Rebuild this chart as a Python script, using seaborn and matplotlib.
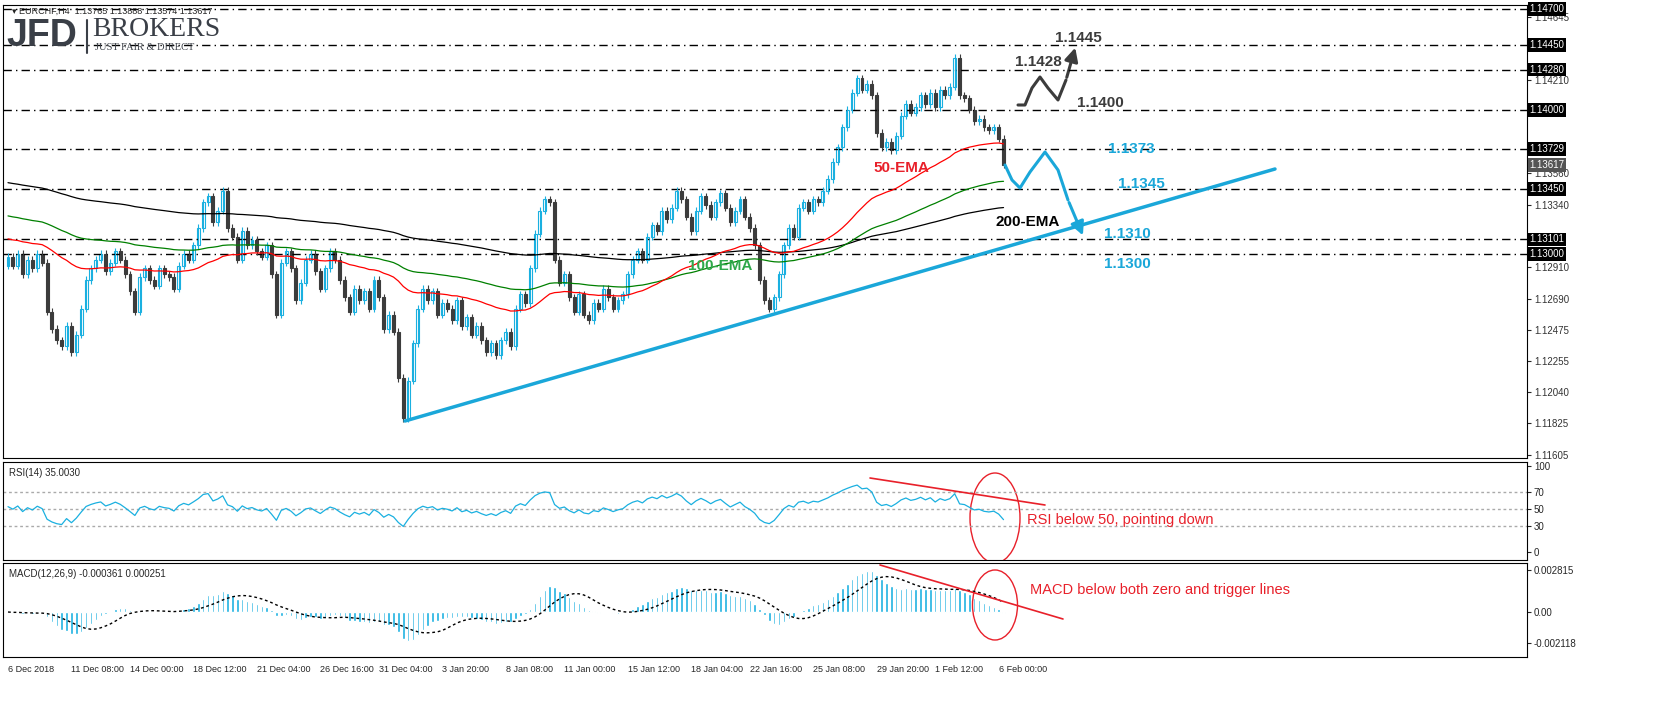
import numpy as np
import pandas as pd
import matplotlib
matplotlib.use("Agg")
import matplotlib.pyplot as plt
import matplotlib.transforms as mtrans
from matplotlib.patches import Ellipse, FancyArrowPatch
import seaborn as sns

# EURCHF H4 closes, 6 Dec 2018 - 6 Feb 2019
closes = [
    1.1298, 1.1292, 1.1300, 1.1286, 1.1296, 1.1290, 1.1300, 1.1294, 1.1260, 1.1248,
    1.1240, 1.1236, 1.1250, 1.1232, 1.1244, 1.1262, 1.1282, 1.1290, 1.1296, 1.1300,
    1.1288, 1.1294, 1.1302, 1.1296, 1.1286, 1.1274, 1.1260, 1.1284, 1.1290, 1.1282,
    1.1278, 1.1290, 1.1286, 1.1284, 1.1276, 1.1292, 1.1300, 1.1296, 1.1306, 1.1318,
    1.1336, 1.1340, 1.1322, 1.1330, 1.1344, 1.1318, 1.1312, 1.1296, 1.1316, 1.1306,
    1.1310, 1.1302, 1.1298, 1.1306, 1.1286, 1.1258, 1.1294, 1.1302, 1.1290, 1.1268,
    1.1280, 1.1296, 1.1300, 1.1288, 1.1276, 1.1290, 1.1302, 1.1296, 1.1282, 1.1270,
    1.1260, 1.1276, 1.1268, 1.1274, 1.1262, 1.1282, 1.1270, 1.1248, 1.1258, 1.1246,
    1.1214, 1.1186, 1.1212, 1.1238, 1.1262, 1.1276, 1.1268, 1.1274, 1.1258, 1.1266,
    1.1262, 1.1254, 1.1268, 1.1250, 1.1256, 1.1244, 1.1250, 1.1240, 1.1232, 1.1238,
    1.1230, 1.1240, 1.1246, 1.1236, 1.1262, 1.1272, 1.1266, 1.1290, 1.1314, 1.1330,
    1.1338, 1.1336, 1.1296, 1.1280, 1.1286, 1.1270, 1.1260, 1.1272, 1.1258, 1.1254,
    1.1266, 1.1262, 1.1276, 1.1270, 1.1262, 1.1268, 1.1272, 1.1286, 1.1296, 1.1302,
    1.1296, 1.1312, 1.1320, 1.1316, 1.1330, 1.1324, 1.1332, 1.1344, 1.1338, 1.1326,
    1.1316, 1.1330, 1.1340, 1.1334, 1.1326, 1.1336, 1.1342, 1.1332, 1.1322, 1.1330,
    1.1338, 1.1326, 1.1318, 1.1306, 1.1282, 1.1268, 1.1262, 1.1270, 1.1286, 1.1306,
    1.1318, 1.1312, 1.1332, 1.1336, 1.1330, 1.1338, 1.1336, 1.1344, 1.1352, 1.1364,
    1.1374, 1.1388, 1.1400, 1.1412, 1.1422, 1.1414, 1.1418, 1.1410, 1.1384, 1.1374,
    1.1378, 1.1372, 1.1382, 1.1396, 1.1404, 1.1398, 1.1402, 1.1410, 1.1404, 1.1412,
    1.1402, 1.1414, 1.1410, 1.1416, 1.1436, 1.1410, 1.1408, 1.1400, 1.1392, 1.1394,
    1.1388, 1.1386, 1.1388, 1.1380, 1.1362,
]
first_open = 1.1292
ema_seeds = {50: 1.1311, 100: 1.1327, 200: 1.1350}
rsi_seed = (0.0004, 0.0004)  # avg gain / avg loss before first candle
levels = [1.1470, 1.1445, 1.1428, 1.1400, 1.13729, 1.1345, 1.13101, 1.1300]
boxed_labels = ["1.14700", "1.14450", "1.14280", "1.14000", "1.13729", "1.13450", "1.13101", "1.13000"]
plain_ticks = [1.14645, 1.14210, 1.13560, 1.13340, 1.12910, 1.12690, 1.12475, 1.12255, 1.12040, 1.11825, 1.11605]
date_labels = ["6 Dec 2018", "11 Dec 08:00", "14 Dec 00:00", "18 Dec 12:00", "21 Dec 04:00",
               "26 Dec 16:00", "31 Dec 04:00", "3 Jan 20:00", "8 Jan 08:00", "11 Jan 00:00",
               "15 Jan 12:00", "18 Jan 04:00", "22 Jan 16:00", "25 Jan 08:00", "29 Jan 20:00",
               "1 Feb 12:00", "6 Feb 00:00"]

sns.set_style("white")
plt.rcParams["font.family"] = ["Liberation Sans", "DejaVu Sans"]

close = pd.Series(closes)
opn = pd.Series([first_open] + closes[:-1])
n = len(close)
idx = np.arange(n)
wick = 0.00025
high = np.maximum(opn, close) + wick
low = np.minimum(opn, close) - wick

def ema(span, seed):
    s = pd.concat([pd.Series([seed]), close], ignore_index=True)
    return s.ewm(span=span, adjust=False).mean().iloc[1:].reset_index(drop=True)

# RSI(14), Wilder smoothing from seeds
d = (close - opn)
gains = pd.concat([pd.Series([rsi_seed[0]]), d.clip(lower=0)], ignore_index=True)
losses = pd.concat([pd.Series([rsi_seed[1]]), (-d).clip(lower=0)], ignore_index=True)
up = gains.ewm(alpha=1 / 14, adjust=False).mean().iloc[1:].reset_index(drop=True)
dn = losses.ewm(alpha=1 / 14, adjust=False).mean().iloc[1:].reset_index(drop=True)
rsi = 100 - 100 / (1 + up / dn)
# MACD(12,26,9)
macd = close.ewm(span=12, adjust=False).mean() - close.ewm(span=26, adjust=False).mean()
signal = macd.rolling(9, min_periods=1).mean()

fig = plt.figure(figsize=(16.55, 7.02), dpi=100)
L, W = 3 / 1655, 1524 / 1655
ax = fig.add_axes([L, 1 - 458 / 702, W, 453 / 702])
ax2 = fig.add_axes([L, 1 - 560 / 702, W, 98 / 702])
ax3 = fig.add_axes([L, 1 - 657 / 702, W, 94 / 702])

XSTEP = 4.88
def px(xp):
    return (xp - 8) / XSTEP
def py(yp):
    return 1.1300 + (254 - yp) / 14414

xlim = (px(3), px(1527))
for a in (ax, ax2, ax3):
    a.set_xlim(*xlim)
    for s in a.spines.values():
        s.set_color("black")
        s.set_linewidth(0.8)
    a.yaxis.tick_right()
    a.tick_params(axis="y", labelsize=7, length=3, pad=2)
    a.set_xticks([])

ax.set_ylim(py(458), py(5))
for lv in levels:
    ax.axhline(lv, color="black", lw=1, ls=(0, (6, 3, 1, 3)))

# candles
bull = close >= opn
up_c, dn_c = "#1ab0e0", "#3c3c3c"
colors = np.where(bull, up_c, dn_c)
ax.vlines(idx, low, high, colors=colors, lw=0.8)
ax.bar(idx[bull], (close - opn)[bull], bottom=opn[bull], width=0.6, color="white",
       edgecolor=up_c, lw=0.8)
ax.bar(idx[~bull], (close - opn)[~bull], bottom=opn[~bull], width=0.6, color=dn_c,
       edgecolor=dn_c, lw=0.8)

for span, col in [(200, "black"), (100, "green"), (50, "red")]:
    sns.lineplot(x=idx, y=ema(span, ema_seeds[span]), ax=ax, color=col, lw=0.9)

# trendline
ax.plot([px(405), px(1275)], [py(421), py(169)], color="#1aa7d9", lw=2.5)

# scenario arrows
bx = [1018, 1025, 1032, 1040, 1048, 1058, 1066]
byy = [105, 105, 88, 77, 88, 100, 80]
ax.plot([px(v) for v in bx], [py(v) for v in byy], color="#3c3c3c", lw=2.2)
ax.add_patch(FancyArrowPatch((px(1066), py(80)), (px(1076), py(45)), arrowstyle="-|>",
                             mutation_scale=20, color="#3c3c3c", lw=2.2))
cx = [1005, 1012, 1020, 1030, 1045, 1058, 1068]
cy = [165, 180, 188, 172, 152, 170, 200]
ax.plot([px(v) for v in cx], [py(v) for v in cy], color="#1aa7d9", lw=2.2)
ax.add_patch(FancyArrowPatch((px(1068), py(200)), (px(1084), py(238)), arrowstyle="-|>",
                             mutation_scale=20, color="#1aa7d9", lw=2.2))

def lab(x, y, s, c, **kw):
    ax.text(px(x), py(y), s, color=c, fontsize=11, fontweight="bold", va="center", **kw)
lab(1055, 38, "1.1445", "#3c3c3c")
lab(1015, 62, "1.1428", "#3c3c3c")
lab(1077, 103, "1.1400", "#3c3c3c")
lab(1108, 149, "1.1373", "#1aa7d9")
lab(1118, 184, "1.1345", "#1aa7d9")
lab(1104, 234, "1.1310", "#1aa7d9")
lab(1104, 264, "1.1300", "#1aa7d9")
lab(873, 168, "50-EMA", "#e8202a")
lab(688, 266, "100-EMA", "#2ea84a")
lab(995, 222, "200-EMA", "black")

# right-side price labels
ax.set_yticks(plain_ticks)
ax.set_yticklabels([f"{v:.5f}" for v in plain_ticks], color="#333333")
tr = mtrans.blended_transform_factory(ax.transAxes, ax.transData)
for lv, s in zip(levels, boxed_labels):
    ax.text(1.0015, lv, s, transform=tr, fontsize=7, color="white", va="center",
            bbox=dict(facecolor="black", edgecolor="none", pad=1.2))
ax.text(1.0015, 1.13617, "1.13617", transform=tr, fontsize=7, color="white", va="center",
        bbox=dict(facecolor="#555555", edgecolor="none", pad=1.2))

ax.text(0.006, 0.996, "▾ EURCHF,H4  1.13765 1.13888 1.13574 1.13617", transform=ax.transAxes,
        fontsize=6.5, va="top", color="#222222")
fig.text(6 / 1655, 1 - 36 / 702, "JFD", fontsize=27, fontweight="bold", color="#3a3f47", va="center")
fig.text(92 / 1655, 1 - 30 / 702, "BROKERS", fontsize=20, family="Liberation Serif",
         color="#3a3f47", va="center")
fig.text(95 / 1655, 1 - 48 / 702, "JUST FAIR & DIRECT", fontsize=7.5, family="Liberation Serif",
         color="#3a3f47", va="center")
fig.lines.append(plt.Line2D([87 / 1655, 87 / 1655], [1 - 20 / 702, 1 - 53 / 702],
                            transform=fig.transFigure, color="#3a3f47", lw=1.5))

# RSI panel
ax2.set_ylim((552 - 560) / 0.86, (552 - 462) / 0.86)
for lv in (70, 50, 30):
    ax2.axhline(lv, color="#aaaaaa", ls=(0, (2, 2)), lw=1)
sns.lineplot(x=idx, y=rsi, ax=ax2, color="#1ab0e0", lw=0.9)
ax2.set_yticks([0, 30, 50, 70, 100])
ax2.text(0.004, 0.94, "RSI(14) 35.0030", transform=ax2.transAxes, fontsize=7, va="top")
ax2.plot([px(870), px(1045)], [(552 - 478) / 0.86, (552 - 505) / 0.86], color="#e8202a", lw=1.2)
ax2.add_patch(Ellipse((px(995), (552 - 518) / 0.86), 50 / XSTEP, 90 / 0.86,
                      fill=False, color="#e8202a", lw=1))
ax2.text(px(1027), (552 - 520) / 0.86, "RSI below 50, pointing down", color="#e8202a",
         fontsize=10.5, va="center")

# MACD panel
MS = 6.76e-5
ax3.set_ylim((612 - 657) * MS, (612 - 563) * MS)
ax3.bar(idx, macd, width=0.5, color="#1ab0e0")
ax3.plot(idx, signal, color="black", ls=(0, (2, 2)), lw=1)
ax3.set_yticks([-0.002118, 0.0, 0.002815])
ax3.set_yticklabels(["-0.002118", "0.00", "0.002815"])
ax3.text(0.004, 0.94, "MACD(12,26,9) -0.000361 0.000251", transform=ax3.transAxes,
         fontsize=7, va="top")
ax3.plot([px(880), px(1063)], [(612 - 565) * MS, (612 - 619) * MS], color="#e8202a", lw=1.2)
ax3.add_patch(Ellipse((px(995), (612 - 605) * MS), 45 / XSTEP, 70 * MS,
                      fill=False, color="#e8202a", lw=1))
ax3.text(px(1030), (612 - 590) * MS, "MACD below both zero and trigger lines", color="#e8202a",
         fontsize=10.5, va="center")

# date axis
ticks = [round(i * 12.7) for i in range(len(date_labels))]
ax3.set_xticks(ticks)
ax3.set_xticklabels(date_labels, fontsize=6.5, ha="left")
ax3.tick_params(axis="x", length=3, pad=3)

fig.savefig("out.png", dpi=100, facecolor="white")
